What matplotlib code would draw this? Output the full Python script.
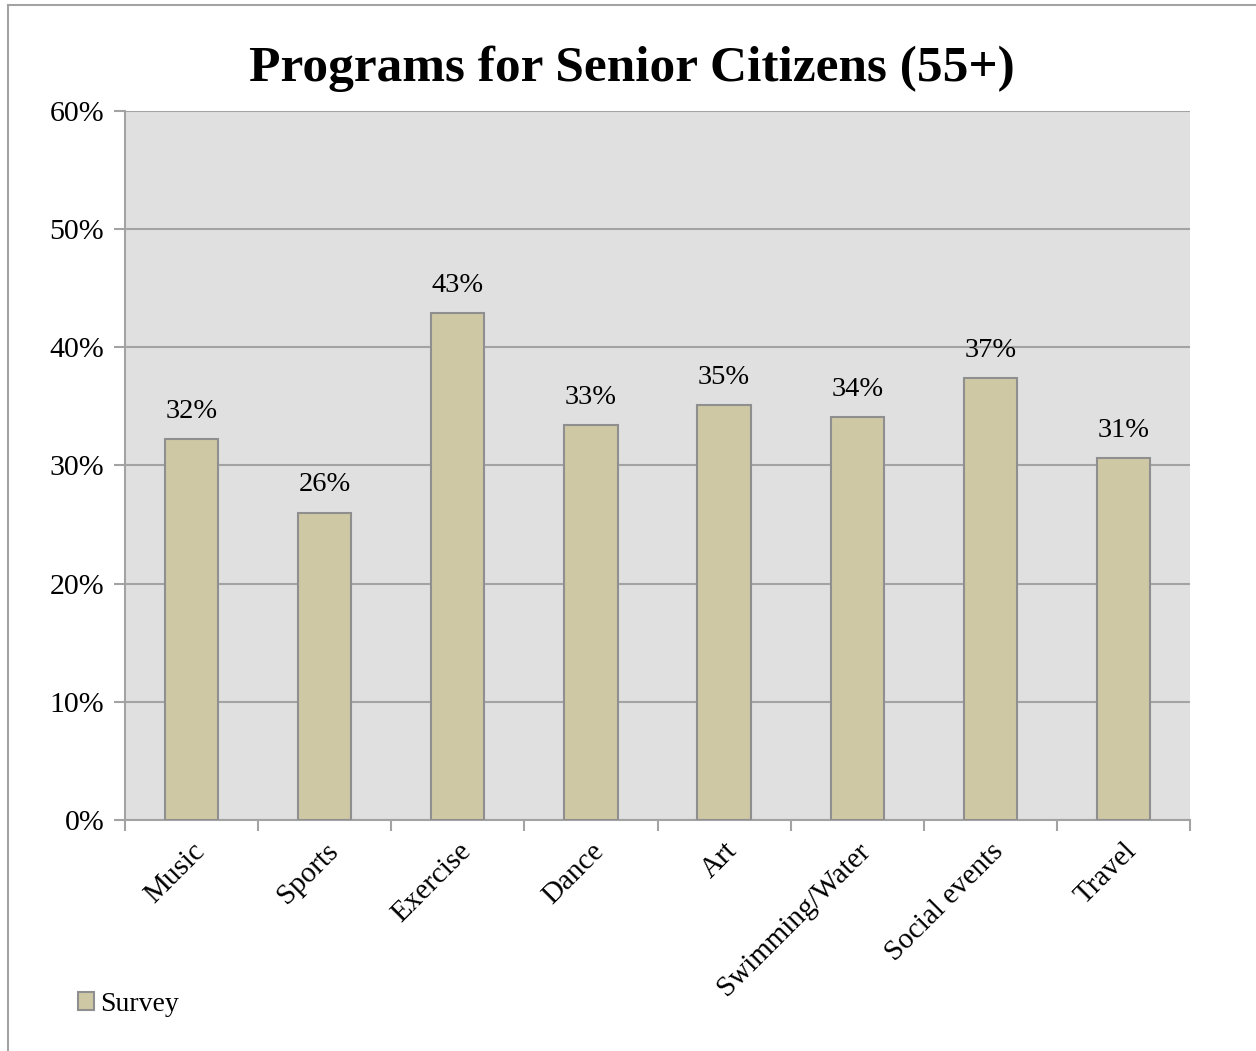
#!/usr/bin/env python3
"""Programs for Senior Citizens (55+) survey bar chart."""

import matplotlib

matplotlib.use("Agg")
import matplotlib.pyplot as plt
from matplotlib.lines import Line2D
from matplotlib.ticker import FixedLocator, PercentFormatter

CATEGORIES = [
    "Music",
    "Sports",
    "Exercise",
    "Dance",
    "Art",
    "Swimming/Water",
    "Social events",
    "Travel",
]
SURVEY = [32.2, 26.0, 42.9, 33.4, 35.1, 34.1, 37.4, 30.6]
Y_TICKS = [0, 10, 20, 30, 40, 50, 60]

BAR_COLOR = "#CFC8A5"
EDGE = "#8F8F8F"
GRID = "#A3A3A3"
PLOT_BG = "#E0E0E0"

plt.rcParams["font.family"] = ["Liberation Serif", "DejaVu Serif"]

figure = plt.figure(figsize=(12.56, 10.51), dpi=100)
axis = figure.add_axes([0.0995, 0.2198, 0.848, 0.6746])
axis.set_facecolor(PLOT_BG)

positions = list(range(len(CATEGORIES)))
bars = axis.bar(
    positions,
    SURVEY,
    width=0.4,
    color=BAR_COLOR,
    edgecolor=EDGE,
    linewidth=1.5,
    label="Survey",
    zorder=3,
)
for bar, value in zip(bars, SURVEY):
    axis.annotate(
        f"{value:.0f}%",
        (bar.get_x() + bar.get_width() / 2, bar.get_height()),
        xytext=(0, 11),
        textcoords="offset points",
        ha="center",
        va="bottom",
        fontsize=20.5,
    )

axis.set_xlim(-0.5, len(CATEGORIES) - 0.5)
axis.set_ylim(0, 60)
axis.yaxis.set_major_locator(FixedLocator(Y_TICKS))
axis.yaxis.set_major_formatter(PercentFormatter(decimals=0))
axis.grid(axis="y", color=GRID, linewidth=1.5, zorder=1)
axis.set_axisbelow(True)

# category ticks sit on the boundaries, labels at the centres
axis.set_xticks([p - 0.5 for p in positions] + [len(CATEGORIES) - 0.5])
axis.tick_params(axis="x", which="major", length=8, width=1.5, color=GRID,
                 labelbottom=False)
axis.set_xticks(positions, minor=True)
axis.set_xticklabels(CATEGORIES, minor=True, rotation=45, ha="right",
                     rotation_mode="anchor", fontsize=21)
axis.tick_params(axis="x", which="minor", length=0, pad=13)
axis.tick_params(axis="y", length=8, width=1.5, color=GRID, labelsize=21.5,
                 pad=7)

for name in ("top", "right"):
    axis.spines[name].set_visible(False)
for name in ("left", "bottom"):
    axis.spines[name].set_color(GRID)
    axis.spines[name].set_linewidth(1.5)

figure.suptitle("Programs for Senior Citizens (55+)", x=0.503, y=0.957,
                fontsize=37, fontweight="bold")

figure.legend(
    handles=[bars],
    labels=["Survey"],
    loc="lower left",
    bbox_to_anchor=(0.042, 0.009),
    frameon=False,
    fontsize=20,
    handlelength=0.6,
    handleheight=0.6,
    handletextpad=0.2,
)

# chart frame (left and top edges visible)
figure.add_artist(Line2D([0.0064, 0.0064], [0.0, 0.9952], color=GRID,
                         linewidth=1.5, transform=figure.transFigure))
figure.add_artist(Line2D([0.0064, 1.0], [0.9952, 0.9952], color=GRID,
                         linewidth=1.5, transform=figure.transFigure))

figure.savefig("out.png", dpi=100)
plt.close(figure)
